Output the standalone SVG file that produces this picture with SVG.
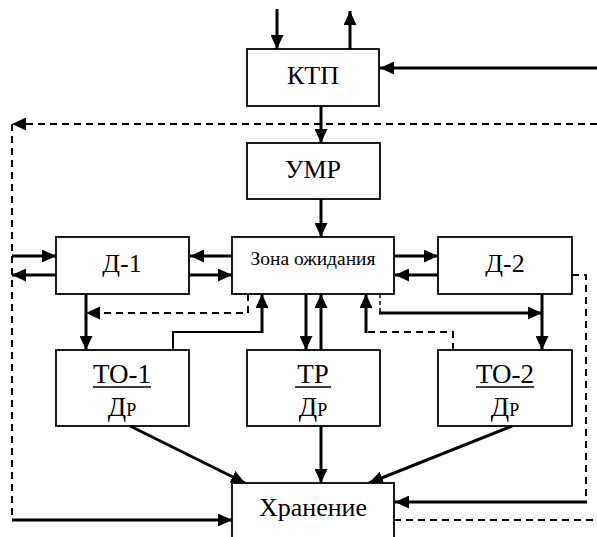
<svg xmlns="http://www.w3.org/2000/svg" width="597" height="537" viewBox="0 0 597 537">
<defs>
<marker id="ah" markerUnits="userSpaceOnUse" markerWidth="15" markerHeight="13" refX="14" refY="6.5" orient="auto">
<path d="M0,0 L14,6.5 L0,13 Z" fill="#000"/>
</marker>
<style>
.box{fill:#fff;stroke:#000;stroke-width:1.8}
text{font-family:'Liberation Serif','DejaVu Serif','Times New Roman',serif;fill:#000;text-anchor:middle}
.c{fill:none;stroke:#000;stroke-width:3}
.th{fill:none;stroke:#000;stroke-width:2}
.d{fill:none;stroke:#000;stroke-width:2;stroke-dasharray:7,5}
.ds{fill:none;stroke:#000;stroke-width:1.5;stroke-dasharray:4,3}
.a{marker-end:url(#ah)}
.u{stroke:#000;stroke-width:1.5}
</style>
</defs>
<rect width="597" height="537" fill="#fff"/>
<g id="connectors">
<line class="c a" x1="277" y1="9" x2="277" y2="49"/>
<line class="c a" x1="350" y1="49" x2="350" y2="11"/>
<line class="c a" x1="597" y1="68" x2="380" y2="68"/>
<line class="c a" x1="321" y1="106" x2="321" y2="143"/>
<path class="d a" d="M597,124 L12,124"/>
<path class="d" d="M12,124 L12,517"/>
<line class="c a" x1="12" y1="520" x2="232" y2="520"/>
<line class="c a" x1="321" y1="199" x2="321" y2="237"/>
<line class="c a" x1="12" y1="256" x2="56" y2="256"/>
<line class="c a" x1="56" y1="275" x2="12" y2="275"/>
<line class="c a" x1="232" y1="256" x2="190" y2="256"/>
<line class="c a" x1="189" y1="275" x2="232" y2="275"/>
<line class="c a" x1="394" y1="256" x2="438" y2="256"/>
<line class="c a" x1="438" y1="275" x2="395" y2="275"/>
<line class="c a" x1="86" y1="294" x2="86" y2="350"/>
<path class="d a" d="M248,294 L248,313 L86,313"/>
<path class="th" d="M173,350 L173,332 L262,332"/>
<path class="c a" d="M262,333 L262,294"/>
<line class="c a" x1="306" y1="294" x2="306" y2="350"/>
<line class="c a" x1="321" y1="350" x2="321" y2="294"/>
<path class="d" d="M453,350 L453,332 L366,332"/>
<line class="c a" x1="366" y1="333" x2="366" y2="294"/>
<path class="ds" d="M380,294 L380,313"/>
<line class="c a" x1="379" y1="313" x2="542" y2="313"/>
<line class="c a" x1="542" y1="294" x2="542" y2="350"/>
<path class="d" d="M572,275 L586,275 L586,500"/>
<line class="c a" x1="587" y1="502" x2="395" y2="502"/>
<path class="d" d="M394,520 L597,520"/>
<line class="c a" x1="130" y1="426" x2="245" y2="483"/>
<line class="c a" x1="321" y1="426" x2="321" y2="483"/>
<line class="c a" x1="512" y1="426" x2="369" y2="483"/>
</g>
<g id="ktp"><rect class="box" x="247" y="49" width="132" height="57"/><text x="313" y="84" font-size="26">КТП</text></g>
<g id="umr"><rect class="box" x="247" y="143" width="133" height="56"/><text x="313" y="178" font-size="26">УМР</text></g>
<g id="zona"><rect class="box" x="232" y="237" width="162" height="57"/><text x="313" y="265" font-size="19.5">Зона ожидания</text></g>
<g id="d1"><rect class="box" x="56" y="237" width="133" height="57"/><text x="122" y="272" font-size="26">Д-1</text></g>
<g id="d2"><rect class="box" x="438" y="237" width="134" height="57"/><text x="505" y="272" font-size="26">Д-2</text></g>
<g id="to1"><rect class="box" x="56" y="350" width="133" height="76"/><text x="122" y="383" font-size="27">ТО-1</text><line class="u" x1="93" y1="387" x2="151" y2="387"/><text x="122" y="416" font-size="27">Д<tspan font-size="18">Р</tspan></text></g>
<g id="tr"><rect class="box" x="247" y="350" width="133" height="76"/><text x="313" y="383" font-size="27">ТР</text><line class="u" x1="295" y1="387" x2="331" y2="387"/><text x="313" y="416" font-size="27">Д<tspan font-size="18">Р</tspan></text></g>
<g id="to2"><rect class="box" x="438" y="350" width="134" height="76"/><text x="505" y="383" font-size="27">ТО-2</text><line class="u" x1="476" y1="387" x2="534" y2="387"/><text x="505" y="416" font-size="27">Д<tspan font-size="18">Р</tspan></text></g>
<g id="storage"><rect class="box" x="232" y="483" width="162" height="70"/><text x="313" y="516" font-size="26">Хранение</text></g>
</svg>
